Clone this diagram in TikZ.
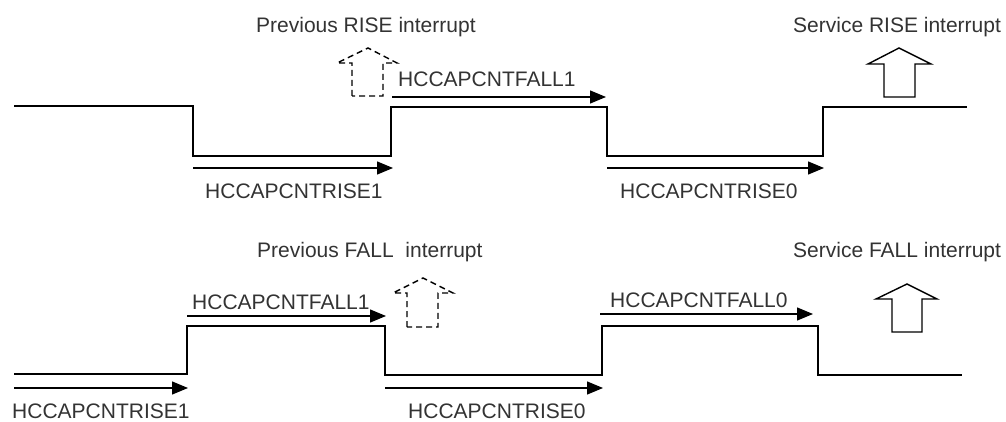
\documentclass[tikz,border=0pt]{standalone}
\usepackage{fontspec}
\setmainfont{Liberation Sans}
\usetikzlibrary{arrows.meta}
\begin{document}
\begin{tikzpicture}[x=1pt,y=-1pt,
  wave/.style={line width=2.8pt,line join=miter},
  cnt/.style={line width=1.3pt,-{Triangle[length=16pt,width=13pt]}},
  lbl/.style={font=\fontsize{21}{24}\selectfont,inner sep=0pt,text=black!80,anchor=base west},
  intr/.style={line width=1.4pt},
  dintr/.style={line width=1.4pt,dash pattern=on 6pt off 4pt}]
\useasboundingbox (0,0) rectangle (1006,422);
% top waveform
\coordinate (t0) at (14,106);
\coordinate (t1) at (193,106);
\coordinate (t2) at (193,156);
\coordinate (t3) at (391,156);
\coordinate (t4) at (391,107);
\coordinate (t5) at (607,107);
\coordinate (t6) at (607,156);
\coordinate (t7) at (823,156);
\coordinate (t8) at (823,107);
\coordinate (t9) at (967,107);
\draw[wave] (t0) -- (t1) -- (t2) -- (t3) -- (t4) -- (t5) -- (t6) -- (t7) -- (t8) -- (t9);
% top counters
\coordinate (ar1s) at (193,168); \coordinate (ar1e) at (393,168);
\draw[cnt] (ar1s) -- (ar1e);
\node[lbl] (lr1) at (205,198) {HCCAPCNTRISE1};
\coordinate (af1s) at (392,97); \coordinate (af1e) at (606,97);
\draw[cnt] (af1s) -- (af1e);
\node[lbl] (lf1) at (398,87) {HCCAPCNTFALL1};
\coordinate (ar0s) at (607,168); \coordinate (ar0e) at (824,168);
\draw[cnt] (ar0s) -- (ar0e);
\node[lbl] (lr0) at (620,198) {HCCAPCNTRISE0};
% top interrupts
\draw[dintr] (352,96) -- (352,63) -- (337,63) -- (368,48) -- (397,63) -- (383,63) -- (383,96) -- cycle;
\node[lbl] (pri) at (256,33) {Previous RISE interrupt};
\draw[intr] (884,97) -- (884,64) -- (868,64) -- (899,48) -- (931,64) -- (915,64) -- (915,97) -- cycle;
\node[lbl] (sri) at (793,33) {Service RISE interrupt};
% bottom waveform
\coordinate (b0) at (14,374);
\coordinate (b1) at (187,374);
\coordinate (b2) at (187,326);
\coordinate (b3) at (385,326);
\coordinate (b4) at (385,375);
\coordinate (b5) at (602,375);
\coordinate (b6) at (602,326);
\coordinate (b7) at (818,326);
\coordinate (b8) at (818,375);
\coordinate (b9) at (962,375);
\draw[wave] (b0) -- (b1) -- (b2) -- (b3) -- (b4) -- (b5) -- (b6) -- (b7) -- (b8) -- (b9);
% bottom counters
\coordinate (br1s) at (14,388); \coordinate (br1e) at (188,388);
\draw[cnt] (br1s) -- (br1e);
\node[lbl] (blr1) at (12,418) {HCCAPCNTRISE1};
\coordinate (bf1s) at (187,316); \coordinate (bf1e) at (386,316);
\draw[cnt] (bf1s) -- (bf1e);
\node[lbl] (blf1) at (192,309) {HCCAPCNTFALL1};
\coordinate (br0s) at (385,388); \coordinate (br0e) at (603,388);
\draw[cnt] (br0s) -- (br0e);
\node[lbl] (blr0) at (408,418) {HCCAPCNTRISE0};
\coordinate (bf0s) at (600,314); \coordinate (bf0e) at (813,314);
\draw[cnt] (bf0s) -- (bf0e);
\node[lbl] (blf0) at (610,307) {HCCAPCNTFALL0};
% bottom interrupts
\draw[dintr] (407,327) -- (407,293) -- (393,293) -- (423,278) -- (453,293) -- (438,293) -- (438,327) -- cycle;
\node[lbl] (pfi) at (257,257) {Previous FALL\ \ interrupt};
\draw[intr] (892,332) -- (892,299) -- (876,299) -- (907,284) -- (937,299) -- (922,299) -- (922,332) -- cycle;
\node[lbl] (sfi) at (793,257) {Service FALL interrupt};
\end{tikzpicture}
\end{document}
